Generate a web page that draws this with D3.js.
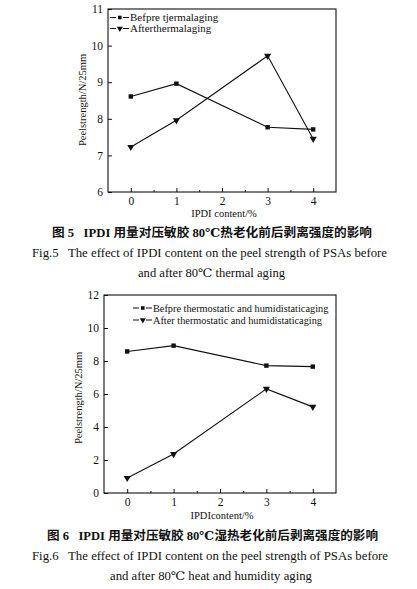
<!DOCTYPE html>
<html>
<head>
<meta charset="utf-8">
<script src="https://cdn.jsdelivr.net/npm/d3@7"></script>
<style>
  body { margin: 0; background: #fff; }
  text { font-family: "Liberation Serif", "Times New Roman", "DejaVu Serif", "Noto Sans CJK SC", serif; fill: #111; }
</style>
</head>
<body>
<svg id="fig" width="417" height="589"></svg>
<script>
const ipdi = [0, 1, 3, 4];
const xTicks = [0, 1, 2, 3, 4];

// Fig.5 thermal aging
const fig5Before = [8.61, 8.96, 7.77, 7.71];
const fig5After = [7.23, 7.96, 9.72, 7.45];
const fig5YTicks = [6, 7, 8, 9, 10, 11];
const fig5Legend = ["Befpre tjermalaging", "Afterthermalaging"];

// Fig.6 heat and humidity aging
const fig6Before = [8.58, 8.93, 7.72, 7.66];
const fig6After = [0.91, 2.36, 6.31, 5.22];
const fig6YTicks = [0, 2, 4, 6, 8, 10, 12];
const fig6Legend = ["Befpre thermostatic and humidistaticaging", "After thermostatic and humidistaticaging"];

const svg = d3.select("#fig");
const serif = "'Liberation Serif', 'Times New Roman', 'DejaVu Serif', serif";

function drawChart(cfg) {
  const x = d3.scaleLinear().domain([-0.5, 4.5]).range([cfg.left, cfg.right]);
  const y = d3.scaleLinear().domain(cfg.yDomain).range([cfg.bottom, cfg.top]);
  const g = svg.append("g");

  // frame
  g.append("rect")
    .attr("x", cfg.left).attr("y", cfg.top)
    .attr("width", cfg.right - cfg.left).attr("height", cfg.bottom - cfg.top)
    .attr("fill", "none").attr("stroke", "#111").attr("stroke-width", 1.1);

  // x axis, inward ticks + half-step minors
  g.append("g").attr("transform", `translate(0,${cfg.bottom})`)
    .call(d3.axisBottom(x).tickValues(xTicks).tickSize(-4).tickPadding(5).tickFormat(d3.format("d")));
  g.append("g").attr("transform", `translate(0,${cfg.bottom})`)
    .call(d3.axisBottom(x).tickValues([-0.5, 0.5, 1.5, 2.5, 3.5].filter(v => v > -0.5))
      .tickSize(-2).tickFormat(""));

  g.append("g").attr("transform", `translate(${cfg.left},0)`)
    .call(d3.axisLeft(y).tickValues(cfg.yTicks).tickSize(-4).tickPadding(5).tickFormat(d3.format("d")));

  g.selectAll(".domain").remove();
  g.selectAll(".tick line").attr("stroke", "#111");
  g.selectAll(".tick text").attr("font-size", 11.5).attr("fill", "#111")
    .style("font-family", serif);

  // axis titles
  g.append("text")
    .attr("x", (cfg.left + cfg.right) / 2 + 2).attr("y", cfg.xLabelY)
    .attr("text-anchor", "middle").attr("font-size", 10.5)
    .text(cfg.xLabel);
  g.append("text")
    .attr("transform", `translate(${cfg.yLabelX},${cfg.yLabelCy}) rotate(-90)`)
    .attr("text-anchor", "middle").attr("font-size", 10.5)
    .text("Peelstrength/N/25mm");

  // series
  const line = d3.line().x((d, i) => x(ipdi[i])).y(d => y(d));
  [cfg.before, cfg.after].forEach(s => {
    g.append("path").datum(s).attr("d", line)
      .attr("fill", "none").attr("stroke", "#111").attr("stroke-width", 1.1);
  });
  g.selectAll("rect.sq").data(cfg.before).join("rect")
    .attr("x", (d, i) => x(ipdi[i]) - 2.2).attr("y", d => y(d) - 2.2)
    .attr("width", 4.4).attr("height", 4.4).attr("fill", "#111");
  const tri = d3.symbol().type(d3.symbolTriangle).size(22);
  g.selectAll("path.tri").data(cfg.after).join("path")
    .attr("d", tri)
    .attr("transform", (d, i) => `translate(${x(ipdi[i])},${y(d)}) rotate(180)`)
    .attr("fill", "#111");

  // legend
  cfg.legend.forEach((lab, i) => {
    const ly = cfg.legendY + i * cfg.legendGap;
    const lx = cfg.legendX;
    g.append("line").attr("x1", lx).attr("x2", lx + 6).attr("y1", ly).attr("y2", ly)
      .attr("stroke", "#111");
    g.append("line").attr("x1", lx + 13).attr("x2", lx + 19).attr("y1", ly).attr("y2", ly)
      .attr("stroke", "#111");
    if (i === 0) {
      g.append("rect").attr("x", lx + 8).attr("y", ly - 1.8).attr("width", 3.6).attr("height", 3.6)
        .attr("fill", "#111");
    } else {
      g.append("path").attr("d", d3.symbol().type(d3.symbolTriangle).size(16))
        .attr("transform", `translate(${lx + 9.8},${ly}) rotate(180)`).attr("fill", "#111");
    }
    g.append("text").attr("x", lx + 20).attr("y", ly + 3.5)
      .attr("font-size", cfg.legendFont).text(lab);
  });

  // captions
  cfg.captions.forEach(c => {
    g.append("text").attr("x", c.x).attr("y", c.y)
      .attr("font-size", c.size).attr("font-weight", c.bold ? "bold" : "normal")
      .attr("xml:space", "preserve")
      .attr("textLength", c.w).attr("lengthAdjust", "spacingAndGlyphs")
      .text(c.text);
  });
}

drawChart({
  left: 108, right: 336, top: 9, bottom: 192,
  yDomain: [6, 11], yTicks: fig5YTicks,
  before: fig5Before, after: fig5After,
  xLabel: "IPDI content/%", xLabelY: 217,
  yLabelX: 86, yLabelCy: 100,
  legend: fig5Legend, legendX: 110, legendY: 17.5, legendGap: 11, legendFont: 11,
  captions: [
    {text: "图 5   IPDI 用量对压敏胶 80℃热老化前后剥离强度的影响", x: 52, y: 237, size: 12, bold: true, w: 320},
    {text: "Fig.5   The effect of IPDI content on the peel strength of PSAs before", x: 32, y: 257, size: 11.5, w: 355},
    {text: "and after 80℃ thermal aging", x: 138, y: 277, size: 11.5, w: 147}
  ]
});

drawChart({
  left: 104, right: 336, top: 295, bottom: 493,
  yDomain: [0, 12], yTicks: fig6YTicks,
  before: fig6Before, after: fig6After,
  xLabel: "IPDIcontent/%", xLabelY: 519,
  yLabelX: 82, yLabelCy: 398,
  legend: fig6Legend, legendX: 133, legendY: 308, legendGap: 12, legendFont: 10.3,
  captions: [
    {text: "图 6   IPDI 用量对压敏胶 80℃湿热老化前后剥离强度的影响", x: 47, y: 540, size: 12, bold: true, w: 331},
    {text: "Fig.6   The effect of IPDI content on the peel strength of PSAs before", x: 32, y: 560, size: 11.5, w: 356},
    {text: "and after 80℃ heat and humidity aging", x: 110, y: 580, size: 11.5, w: 202}
  ]
});
</script>
</body>
</html>
